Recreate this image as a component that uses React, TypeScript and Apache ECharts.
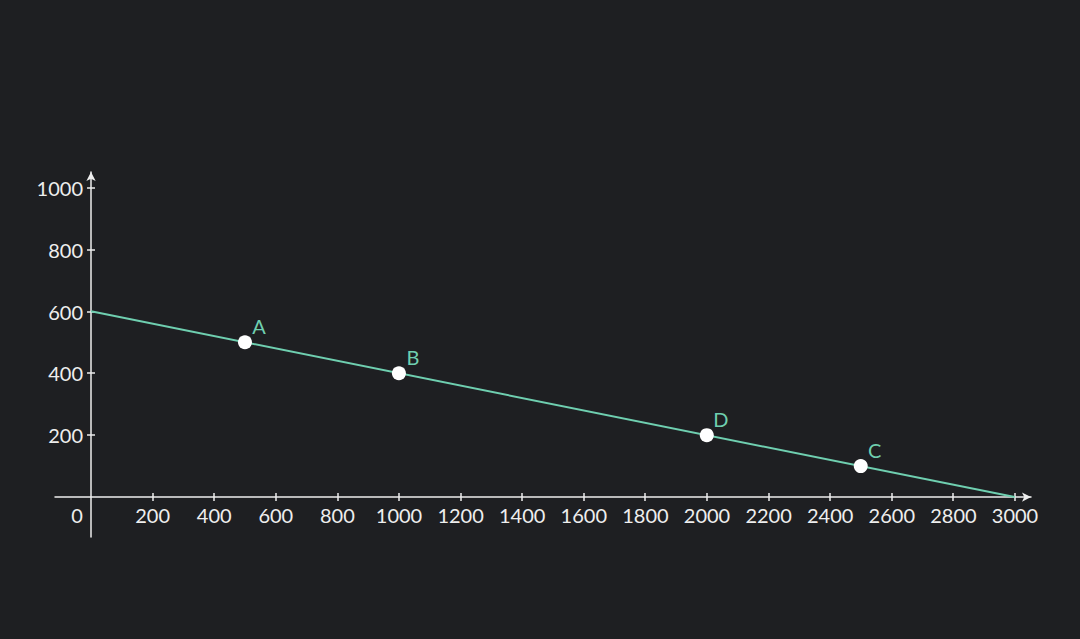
import { useEffect, useRef } from 'react'
import * as echarts from 'echarts'

const xTicks = [200, 400, 600, 800, 1000, 1200, 1400, 1600, 1800, 2000, 2200, 2400, 2600, 2800, 3000]
const yTicks = [200, 400, 600, 800, 1000]
const lineData = [
  [0, 600],
  [3000, 0],
]
const pointNames = ['A', 'B', 'D', 'C']
const pointX = [500, 1000, 2000, 2500]
const pointY = [500, 400, 200, 100]

const BG = '#1e1f22'
const FG = '#eeeeee'
const TEAL = '#6fcfb0'
const FONT = 'Lato'
const FS = 20

export default function App() {
  const chartRef = useRef<HTMLDivElement>(null)

  useEffect(() => {
    if (!chartRef.current) return
    const chart = echarts.init(chartRef.current, null, { renderer: 'svg' })

    const axisLine = (arrow: boolean) => ({
      show: arrow,
      onZero: true,
      symbol: arrow ? ['none', 'arrow'] : 'none',
      symbolSize: [7, 9],
      lineStyle: { color: FG, width: 1.5 },
    })
    const tick = (values: number[], inside: boolean) => ({
      customValues: values,
      length: 4,
      inside,
      lineStyle: { color: FG, width: 1.5 },
    })

    // grid 0: lines, ticks and data; grid 1: labels only (its edges sit on the zero lines)
    const xBase = { type: 'value', gridIndex: 0, min: -117, max: 3053, position: 'bottom', splitLine: { show: false } }
    const yBase = { type: 'value', gridIndex: 0, min: -129, max: 1050, position: 'left', splitLine: { show: false } }

    chart.setOption({
      animation: false,
      backgroundColor: BG,
      textStyle: { fontFamily: FONT },
      grid: [
        { left: 55, right: 49, top: 172, bottom: 102 },
        { left: 91, right: 65, top: 188, bottom: 142 },
      ],
      xAxis: [
        { ...xBase, axisLine: axisLine(true), axisTick: tick(xTicks, false), axisLabel: { show: false } },
        { ...xBase, axisLine: axisLine(false), axisTick: tick(xTicks, true), axisLabel: { show: false } },
        {
          type: 'value',
          gridIndex: 1,
          min: 0,
          max: 3000,
          position: 'bottom',
          splitLine: { show: false },
          axisLine: { show: false },
          axisTick: { show: false },
          axisLabel: {
            customValues: [0, ...xTicks],
            margin: 8,
            color: FG,
            fontSize: FS,
            fontFamily: FONT,
            formatter: (v: number) => (v === 0 ? '{o|0}' : String(v)),
            rich: { o: { color: FG, fontSize: FS, fontFamily: FONT, padding: [0, 28, 0, 0] } },
          },
        },
      ],
      yAxis: [
        { ...yBase, axisLine: axisLine(true), axisTick: tick(yTicks, false), axisLabel: { show: false } },
        { ...yBase, axisLine: axisLine(false), axisTick: tick(yTicks, true), axisLabel: { show: false } },
        {
          type: 'value',
          gridIndex: 1,
          min: 0,
          max: 1000,
          position: 'left',
          splitLine: { show: false },
          axisLine: { show: false },
          axisTick: { show: false },
          axisLabel: {
            customValues: yTicks,
            margin: 8,
            color: FG,
            fontSize: FS,
            fontFamily: FONT,
            formatter: (v: number) => String(v),
          },
        },
      ],
      series: [
        {
          type: 'line',
          xAxisIndex: 0,
          yAxisIndex: 0,
          data: lineData,
          showSymbol: false,
          lineStyle: { color: TEAL, width: 2 },
          silent: true,
        },
        {
          type: 'scatter',
          xAxisIndex: 0,
          yAxisIndex: 0,
          data: pointX.map((x, i) => ({ value: [x, pointY[i]], name: pointNames[i] })),
          symbolSize: 14,
          itemStyle: { color: '#ffffff', opacity: 1 },
          label: {
            show: true,
            position: 'inside',
            offset: [14, -16],
            formatter: '{b}',
            color: TEAL,
            fontSize: FS,
            fontFamily: FONT,
          },
          z: 5,
        },
      ],
    })

    return () => {
      chart.dispose()
    }
  }, [])

  return (
    <div style={{ position: 'fixed', left: 0, top: 0, width: 1080, height: 639, background: BG }}>
      <div ref={chartRef} style={{ width: 1080, height: 639 }} />
    </div>
  )
}
